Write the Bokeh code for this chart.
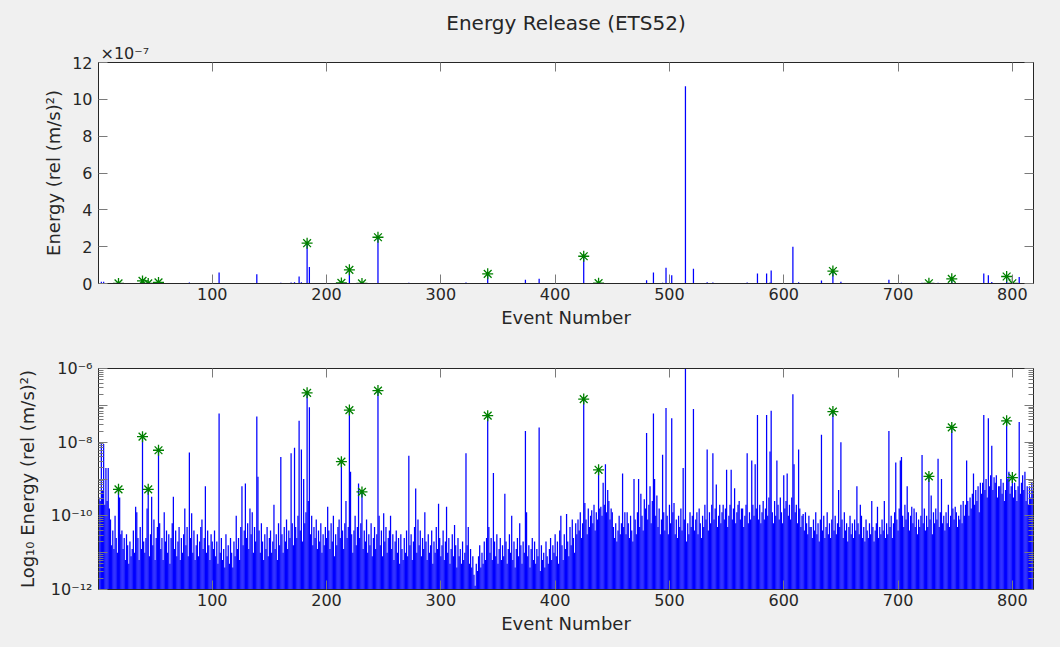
import numpy as np
from bokeh.plotting import figure
from bokeh.layouts import column
from bokeh.models import (FixedTicker, CustomJSTickFormatter, LinearAxis, LogAxis,
                          Title, Range1d, ColumnDataSource)
from bokeh.embed import file_html
from bokeh.resources import INLINE

# log10 of released energy, one value per event (events 1..818)
log10_energy = [
    -9.5, -9.6, -8.0, -9.3, -8.05, -9.7, -8.7, -9.6, -8.7, -9.8, -10.1, -10.8, -10.4, -10.9, -10.0, -10.6, -11.0, -9.28, -9.5, -10.5,
    -10.4, -10.9, -10.6, -11.2, -10.5, -10.8, -11.3, -10.7, -11.1, -10.9, -10.4, -11.0, -9.75, -9.9, -10.6, -11.2, -10.3, -10.9, -7.85, -10.7,
    -11.0, -10.6, -9.8, -9.28, -11.1, -10.5, -9.48, -10.8, -10.1, -11.2, -10.6, -10.3, -8.22, -10.2, -10.9, -10.6, -11.2, -9.9, -10.7, -10.4,
    -11.0, -10.5, -11.3, -10.6, -10.2, -9.48, -10.9, -10.4, -11.1, -10.7, -10.3, -11.2, -10.6, -11.0, -10.5, -9.8, -10.8, -10.3, -11.1, -8.28,
    -10.6, -9.93, -11.0, -10.4, -11.2, -10.8, -10.5, -11.1, -10.7, -10.3, -10.1, -10.9, -10.6, -9.2, -11.0, -10.4, -10.8, -11.2, -10.5, -10.7,
    -10.9, -10.4, -11.1, -10.7, -11.3, -7.22, -11.0, -10.6, -11.2, -10.9, -11.4, -10.5, -11.1, -10.8, -11.3, -10.6, -11.0, -11.4, -10.7, -11.1,
    -10.0, -10.9, -10.6, -11.2, -10.3, -9.2, -10.8, -10.4, -9.12, -10.6, -10.2, -10.9, -9.8, -10.5, -9.9, -11.0, -10.3, -10.7, -7.3, -8.94,
    -10.4, -11.0, -10.2, -10.7, -11.2, -10.5, -10.9, -10.3, -11.1, -10.6, -10.4, -11.0, -10.7, -9.7, -10.9, -10.5, -11.2, -10.2, -10.8, -8.4,
    -10.5, -11.0, -10.3, -10.7, -10.1, -10.9, -10.4, -10.6, -8.3, -10.2, -10.8, -8.15, -10.3, -10.6, -10.0, -7.42, -10.4, -8.2, -10.7, -9.0,
    -10.2, -9.9, -6.66, -9.6, -7.05, -10.5, -10.0, -10.8, -10.3, -10.6, -10.1, -10.9, -10.4, -10.7, -10.2, -11.0, -10.5, -10.8, -10.3, -10.6,
    -9.75, -10.4, -10.9, -10.2, -10.7, -10.0, -11.1, -10.5, -10.8, -10.3, -10.1, -10.6, -8.53, -10.4, -10.9, -10.2, -9.6, -10.6, -10.3, -7.13,
    -8.8, -10.5, -11.0, -10.4, -10.0, -10.8, -10.3, -9.12, -10.6, -10.2, -9.35, -10.9, -10.4, -10.7, -10.1, -11.0, -10.5, -10.8, -10.2, -11.1,
    -10.6, -10.3, -10.9, -10.5, -6.6, -10.0, -10.8, -10.4, -11.1, -9.93, -10.7, -10.3, -11.0, -10.6, -10.4, -10.0, -10.9, -10.5, -11.2, -10.7,
    -10.4, -11.0, -10.6, -11.3, -10.5, -10.9, -11.2, -10.6, -11.0, -10.4, -11.1, -8.37, -10.8, -10.5, -11.2, -10.7, -10.3, -9.26, -11.0, -10.1,
    -10.8, -10.4, -11.1, -10.6, -10.9, -9.9, -10.7, -11.2, -10.5, -11.0, -10.8, -10.4, -11.3, -10.7, -11.0, -10.3, -10.9, -9.67, -10.6, -11.1,
    -10.8, -10.4, -11.2, -10.7, -9.75, -11.0, -10.6, -11.3, -10.9, -10.5, -11.1, -10.25, -10.8, -11.4, -10.6, -11.1, -10.9, -11.3, -10.7, -11.2,
    -11.0, -8.3, -10.8, -10.3, -11.3, -10.9, -11.4, -11.1, -11.6, -11.9, -11.3, -11.5, -11.1, -10.8, -11.4, -11.0, -11.3, -10.7, -11.2, -10.6,
    -7.28, -10.3, -11.0, -10.6, -11.2, -8.84, -10.7, -11.1, -10.5, -11.3, -10.9, -10.6, -11.2, -10.8, -11.1, -9.4, -10.7, -11.3, -10.9, -10.5,
    -11.0, -10.0, -11.2, -10.7, -11.4, -10.9, -10.6, -11.1, -10.2, -10.8, -11.3, -10.7, -11.0, -7.7, -9.9, -11.1, -10.8, -11.4, -10.9, -10.6,
    -11.2, -10.7, -11.3, -10.9, -11.1, -7.6, -11.5, -10.8, -11.2, -11.0, -11.4, -10.7, -11.1, -11.3, -10.9, -10.6, -11.2, -10.8, -11.0, -10.5,
    -11.1, -10.7, -11.3, -10.4, -10.0, -10.8, -11.2, -10.5, -10.9, -9.95, -10.7, -11.1, -10.3, -10.8, -10.1, -10.6, -11.0, -10.2, -10.5, -10.1,
    -10.4, -9.9, -10.6, -10.2, -6.83, -9.65, -10.1, -10.5, -9.8, -10.3, -10.0, -9.85, -10.2, -9.7, -10.4, -9.9, -10.1, -8.75, -9.8, -9.75,
    -10.0, -9.1, -9.7, -8.6, -9.9, -9.3, -9.6, -10.1, -9.8, -9.9, -10.3, -10.6, -10.2, -10.7, -10.4, -10.0, -10.5, -10.2, -8.85, -10.3,
    -9.9, -10.5, -9.9, -10.2, -10.6, -10.0, -10.4, -10.7, -9.0, -10.1, -10.5, -9.9, -9.0, -10.3, -9.4, -10.0, -10.4, -9.55, -9.8, -7.75,
    -10.1, -9.7, -9.2, -10.2, -9.6, -7.22, -9.0, -10.0, -9.45, -10.3, -9.8, -10.5, -10.1, -8.34, -9.9, -10.4, -7.07, -10.0, -10.5, -9.7,
    -10.2, -7.35, -9.9, -9.65, -10.5, -10.1, -10.6, -10.0, -10.3, -9.8, -10.4, -8.7, -10.1, -5.97, -10.7, -10.2, -10.5, -9.9, -10.3, -10.0,
    -7.1, -10.4, -10.1, -9.9, -10.5, -9.8, -10.2, -10.6, -10.0, -10.3, -9.7, -10.1, -8.2, -10.4, -9.9, -10.2, -9.7, -8.3, -10.1, -9.8,
    -9.15, -10.3, -10.0, -9.7, -10.2, -9.9, -9.7, -10.1, -9.8, -8.75, -10.3, -10.0, -9.7, -8.75, -10.1, -9.8, -9.25, -10.2, -9.9, -9.7,
    -9.6, -10.1, -9.8, -9.8, -10.3, -10.0, -9.7, -8.3, -10.2, -9.9, -10.1, -8.5, -9.7, -10.0, -8.6, -9.8, -7.26, -10.1, -9.7, -10.2,
    -9.9, -9.6, -10.1, -9.8, -7.26, -10.0, -9.5, -8.25, -7.15, -9.9, -10.2, -9.6, -10.0, -8.5, -9.7, -10.1, -9.5, -9.9, -10.2, -8.9,
    -9.8, -9.6, -8.85, -10.0, -9.7, -10.1, -9.5, -6.7, -8.6, -9.9, -9.7, -10.2, -8.2, -9.8, -10.3, -10.0, -9.95, -10.4, -9.9, -10.2,
    -10.5, -10.0, -10.3, -10.3, -10.6, -10.1, -10.4, -9.9, -10.5, -10.2, -10.7, -10.1, -7.8, -10.4, -10.0, -10.6, -10.3, -9.9, -10.5, -10.2,
    -10.6, -10.1, -7.17, -10.4, -10.0, -10.5, -10.2, -9.3, -10.3, -8.0, -10.1, -10.6, -9.9, -10.4, -10.2, -10.7, -10.3, -10.0, -10.5, -10.2,
    -10.6, -10.1, -10.4, -9.2, -10.2, -10.5, -9.7, -10.0, -10.6, -10.3, -10.7, -10.1, -10.4, -10.6, -10.2, -10.5, -9.6, -10.3, -10.7, -10.4,
    -10.2, -9.75, -10.6, -10.3, -10.5, -10.1, -10.4, -9.6, -10.6, -10.2, -10.5, -7.7, -10.3, -10.0, -10.6, -10.2, -9.9, -8.55, -10.1, -10.4,
    -9.8, -8.5, -8.4, -10.0, -10.3, -9.7, -10.1, -9.2, -9.9, -10.4, -10.0, -9.75, -10.2, -9.8, -10.3, -9.9, -10.5, -10.1, -10.3, -10.0,
    -8.35, -10.2, -9.8, -10.4, -10.0, -10.3, -8.93, -10.1, -9.45, -10.5, -9.9, -10.2, -9.8, -10.1, -8.45, -10.3, -9.9, -9.0, -10.2, -10.0,
    -10.4, -9.9, -10.2, -9.7, -10.3, -10.0, -7.6, -9.8, -10.1, -9.75, -9.9, -10.3, -10.0, -10.1, -9.7, -10.2, -9.6, -10.0, -9.7, -8.5,
    -9.6, -10.0, -9.5, -9.8, -9.4, -8.85, -9.7, -9.3, -9.6, -9.2, -9.9, -9.1, -9.4, -9.1, -7.26, -9.3, -9.0, -9.5, -7.35, -9.2,
    -8.9, -8.1, -9.3, -8.95, -9.1, -8.9, -9.5, -9.2, -9.2, -9.0, -9.4, -9.1, -9.6, -9.3, -7.42, -9.0, -8.8, -9.4, -9.2, -8.96,
    -9.5, -9.1, -9.3, -9.6, -9.2, -7.45, -9.4, -9.1, -8.9, -9.3, -8.8, -9.6, -9.2, -9.7, -9.2, -9.5, -9.1, -9.3,
]

# events flagged with a star marker
flagged_events = [18, 39, 44, 53, 183, 213, 220, 231, 245, 341, 425, 438, 643, 727, 747, 795, 800]

x_ticks = [100, 200, 300, 400, 500, 600, 700, 800]
lin_ticks = [0, 2e-7, 4e-7, 6e-7, 8e-7, 10e-7, 12e-7]
log_ticks = [1e-12, 1e-11, 1e-10, 1e-9, 1e-8, 1e-7, 1e-6]

events = np.arange(1, len(log10_energy) + 1)
energy = 10.0 ** np.array(log10_energy)
flag_idx = np.array(flagged_events) - 1

bars = ColumnDataSource(dict(x=events, e=energy, floor_lin=np.zeros(len(events)),
                             floor_log=np.full(len(events), 1e-13)))
stars = ColumnDataSource(dict(x=np.array(flagged_events), e=energy[flag_idx]))

BG = "#f0f0f0"
FONT = "DejaVu Sans"
INK = "#262626"
TICK = "#7a7a7a"
BLUE = "#0000ff"
GREEN = "#008000"
BAR_W = 1.25
XMIN, XMAX = 0.5, len(log10_energy) + 0.5

blank = CustomJSTickFormatter(code="return '';")


def style_axis(ax, labels=True):
    ax.axis_line_color = INK
    ax.major_tick_line_color = TICK
    ax.minor_tick_line_color = TICK
    ax.major_tick_in = 9
    ax.major_tick_out = 0
    ax.minor_tick_in = 5
    ax.minor_tick_out = 0
    ax.major_label_text_font = FONT
    ax.major_label_text_font_size = "16px"
    ax.major_label_text_color = INK
    ax.axis_label_text_font = FONT
    ax.axis_label_text_font_size = "18px"
    ax.axis_label_text_font_style = "normal"
    ax.axis_label_text_color = INK
    if not labels:
        ax.formatter = blank
        ax.major_label_text_font_size = "0px"
        ax.major_label_standoff = 0


def base_figure(height, top, bottom, y_range, y_type):
    p = figure(width=1060, height=height, frame_width=935, frame_height=221,
               min_border_left=98, min_border_right=27,
               min_border_top=top, min_border_bottom=bottom,
               x_range=Range1d(XMIN, XMAX), y_range=y_range, y_axis_type=y_type,
               output_backend="svg", toolbar_location=None, title=None,
               background_fill_color="white", border_fill_color=BG)
    p.outline_line_color = INK
    p.grid.visible = False
    p.xaxis.ticker = FixedTicker(ticks=x_ticks)
    p.xaxis.axis_label = "Event Number"
    for ax in p.xaxis:
        style_axis(ax)
    p.xaxis.major_label_standoff = 4
    p.xaxis.axis_label_standoff = 4
    top_ax = LinearAxis(ticker=FixedTicker(ticks=x_ticks))
    style_axis(top_ax, labels=False)
    p.add_layout(top_ax, "above")
    return p


# ---- linear panel ----
p1 = base_figure(330, 62, 47, Range1d(0, 1.2e-6), "linear")
lin_ticker = FixedTicker(ticks=lin_ticks, minor_ticks=[])
p1.yaxis.ticker = lin_ticker
p1.yaxis.axis_label = "Energy (rel (m/s)²)"
for ax in p1.yaxis:
    style_axis(ax)
p1.yaxis.formatter = CustomJSTickFormatter(code="return (tick / 1e-7).toFixed(0);")
p1.yaxis.major_label_standoff = 6
p1.yaxis.axis_label_standoff = 5
r1 = LinearAxis(ticker=lin_ticker)
style_axis(r1, labels=False)
p1.add_layout(r1, "right")

p1.segment(x0="x", y0="floor_lin", x1="x", y1="e", source=bars,
           line_color=BLUE, line_width=BAR_W)
p1.scatter(x="x", y="e", source=stars, marker="asterisk", size=11,
           line_color=GREEN, line_width=1.3)

# scale factor note sits right above the frame, the main title above it
p1.add_layout(Title(text="×10⁻⁷", align="left", offset=2, standoff=0,
                    text_font=FONT, text_font_size="16px",
                    text_font_style="normal", text_color=INK), "above")
p1.add_layout(Title(text="Energy Release (ETS52)", align="center", standoff=14,
                    text_font=FONT, text_font_size="20px",
                    text_font_style="normal", text_color=INK), "above")

# ---- logarithmic panel ----
p2 = base_figure(318, 38, 58, Range1d(1e-12, 1e-6), "log")
minor = [k * 10.0 ** e for e in range(-12, -6) for k in range(2, 10)]
log_ticker = FixedTicker(ticks=log_ticks, minor_ticks=minor)
pow_fmt = CustomJSTickFormatter(code="""
    const e = Math.round(Math.log10(tick));
    if (e % 2 !== 0) return '';
    const sup = {'0':'⁰','1':'¹','2':'²','3':'³','4':'⁴','5':'⁵','6':'⁶','7':'⁷','8':'⁸','9':'⁹','-':'⁻'};
    return '10' + String(e).split('').map(c => sup[c]).join('');
""")
p2.yaxis.ticker = log_ticker
p2.yaxis.axis_label = "Log₁₀ Energy (rel (m/s)²)"
for ax in p2.yaxis:
    style_axis(ax)
p2.yaxis.formatter = pow_fmt
p2.yaxis.major_label_standoff = 6
p2.yaxis.axis_label_standoff = 10
r2 = LogAxis(ticker=log_ticker)
style_axis(r2, labels=False)
p2.add_layout(r2, "right")

p2.segment(x0="x", y0="floor_log", x1="x", y1="e", source=bars,
           line_color=BLUE, line_width=BAR_W)
p2.scatter(x="x", y="e", source=stars, marker="asterisk", size=11,
           line_color=GREEN, line_width=1.3)

layout = column(p1, p2, spacing=0, styles={"background-color": BG})

with open("out.html", "w", encoding="utf-8") as f:
    f.write(file_html(layout, INLINE, title="Energy Release (ETS52)"))
